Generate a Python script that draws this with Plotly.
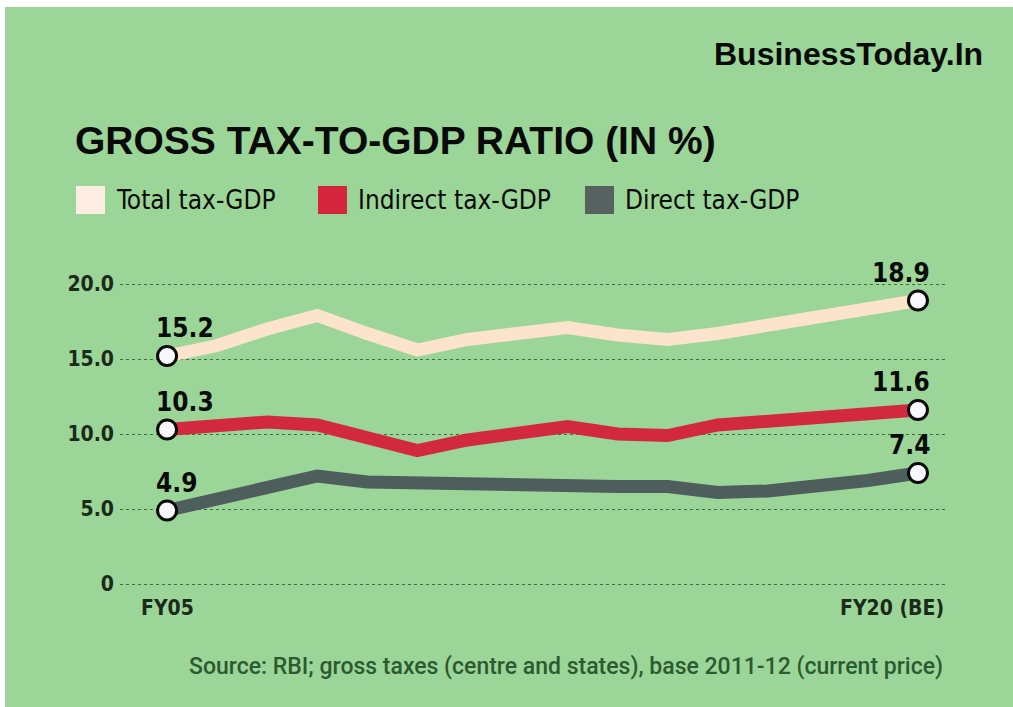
import plotly.graph_objects as go

# Fiscal years FY05 .. FY20 (BE)
years = ["FY05", "FY06", "FY07", "FY08", "FY09", "FY10", "FY11", "FY12",
         "FY13", "FY14", "FY15", "FY16", "FY17", "FY18", "FY19", "FY20"]
x_end_labels = ["FY05", "FY20 (BE)"]

total_tax_gdp = [15.2, 15.9, 17.0, 17.9, 16.7, 15.6, 16.3, 16.7,
                 17.1, 16.6, 16.3, 16.7, 17.2, 17.8, 18.4, 18.9]
indirect_tax_gdp = [10.3, 10.6, 10.8, 10.6, 9.8, 8.9, 9.6, 10.0,
                    10.5, 10.0, 9.9, 10.6, 10.9, 11.2, 11.5, 11.6]
direct_tax_gdp = [4.9, 5.6, 6.5, 7.2, 6.8, 6.7, 6.7, 6.5,
                  6.5, 6.5, 6.5, 6.1, 6.2, 6.5, 6.9, 7.4]

series_names = ["Total tax-GDP", "Indirect tax-GDP", "Direct tax-GDP"]
y_ticks = [0, 5, 10, 15, 20]
y_tick_text = ["0", "5.0", "10.0", "15.0", "20.0"]

title_text = "GROSS TAX-TO-GDP RATIO (IN %)"
brand_text = "BusinessToday.In"
source_text = "Source: RBI; gross taxes (centre and states), base 2011-12 (current price)"

# Styling
W, H = 1013, 707
ML, MR, MT, MB = 120, 68, 269, 120
GREEN = "#9BD698"
LINE_COLORS = ["#FCE3CC", "#D3293F", "#4E5E5C"]
SWATCH_COLORS = ["#FEEDE2", "#D5263E", "#56625F"]
NARROW = "Liberation Sans Narrow, DejaVu Sans Condensed, Roboto Condensed, Liberation Sans, sans-serif"
BOLD = "Liberation Sans, Arial, sans-serif"

pw, ph = W - ML - MR, H - MT - MB


def px_x(px):
    return (px - ML) / pw


def px_y(py):
    return (H - MB - py) / ph


all_series = [total_tax_gdp, indirect_tax_gdp, direct_tax_gdp]

fig = go.Figure()

for name, vals, col in zip(series_names, all_series, LINE_COLORS):
    fig.add_trace(go.Scatter(
        x=years, y=vals, mode="lines", name=name,
        line=dict(color=col, width=13), showlegend=False, hoverinfo="skip",
    ))

# endpoint markers
for vals in all_series:
    fig.add_trace(go.Scatter(
        x=[years[0], years[-1]], y=[vals[0], vals[-1]], mode="markers",
        marker=dict(size=19, color="#F7F7FC", line=dict(color="#0A0A0A", width=3)),
        showlegend=False, hoverinfo="skip",
    ))

annotations = []
# endpoint value labels
for vals in all_series:
    annotations.append(dict(
        x=years[0], y=vals[0], xref="x", yref="y", text=f"{vals[0]:.1f}",
        showarrow=False, xanchor="left", yanchor="bottom", xshift=-13, yshift=11,
        font=dict(family=NARROW, size=26, color="#0A0A0A", weight="bold"),
    ))
    annotations.append(dict(
        x=years[-1], y=vals[-1], xref="x", yref="y", text=f"{vals[-1]:.1f}",
        showarrow=False, xanchor="right", yanchor="bottom", xshift=14, yshift=11,
        font=dict(family=NARROW, size=26, color="#0A0A0A", weight="bold"),
    ))

# x end labels
annotations.append(dict(
    x=years[0], y=0, xref="x", yref="y", text=x_end_labels[0], showarrow=False,
    xanchor="center", yanchor="top", yshift=-10,
    font=dict(family=NARROW, size=21, color="#1B2A1B", weight="bold"),
))
annotations.append(dict(
    x=px_x(946), y=0, xref="paper", yref="y", text=x_end_labels[1], showarrow=False,
    xanchor="right", yanchor="top", yshift=-10,
    font=dict(family=NARROW, size=21, color="#1B2A1B", weight="bold"),
))

# brand, title, source
annotations.append(dict(
    x=px_x(985), y=px_y(54), xref="paper", yref="paper", text=brand_text,
    showarrow=False, xanchor="right", yanchor="middle",
    font=dict(family=BOLD, size=32, color="#0A0A0A", weight="bold"),
))
annotations.append(dict(
    x=px_x(73), y=px_y(140), xref="paper", yref="paper", text=title_text,
    showarrow=False, xanchor="left", yanchor="middle",
    font=dict(family=BOLD, size=39, color="#0A0A0A", weight="bold"),
))
annotations.append(dict(
    x=px_x(945), y=px_y(666), xref="paper", yref="paper", text=source_text,
    showarrow=False, xanchor="right", yanchor="middle",
    font=dict(family="Roboto, Liberation Sans, sans-serif", size=23,
              color="#2C5A31", weight=500),
))

# legend swatches and labels; white page edge at top and left
swatch_x = [76, 318, 585]
shapes = [
    dict(type="rect", xref="paper", yref="paper",
         x0=px_x(-5), x1=px_x(W + 5), y0=px_y(7), y1=px_y(-5),
         fillcolor="white", line=dict(width=0), layer="below"),
    dict(type="rect", xref="paper", yref="paper",
         x0=px_x(-5), x1=px_x(5), y0=px_y(H + 5), y1=px_y(-5),
         fillcolor="white", line=dict(width=0), layer="below"),
]
for sx, name, col in zip(swatch_x, series_names, SWATCH_COLORS):
    shapes.append(dict(type="rect", xref="paper", yref="paper",
                       x0=px_x(sx), x1=px_x(sx + 29), y0=px_y(214), y1=px_y(186),
                       fillcolor=col, line=dict(width=0)))
    annotations.append(dict(
        x=px_x(sx + 38), y=px_y(200), xref="paper", yref="paper", text=name,
        showarrow=False, xanchor="left", yanchor="middle",
        font=dict(family=NARROW, size=26, color="#0A0A0A"),
    ))

fig.update_layout(
    width=W, height=H,
    margin=dict(l=ML, r=MR, t=MT, b=MB),
    paper_bgcolor=GREEN,
    plot_bgcolor="rgba(0,0,0,0)",
    showlegend=False,
    shapes=shapes,
    annotations=annotations,
    xaxis=dict(
        type="category", categoryorder="array", categoryarray=years,
        range=[-0.94, 15.54], showgrid=False, zeroline=False,
        showticklabels=False, showline=False, fixedrange=True,
    ),
    yaxis=dict(
        range=[-0.2, 21], tickvals=y_ticks, ticktext=y_tick_text,
        showgrid=True, gridcolor="#3D6E3C", gridwidth=1.3, griddash="dot",
        zeroline=False, showline=False, ticks="", ticklabelstandoff=5,
        tickfont=dict(family=NARROW, size=21, color="#1B2A1B", weight="bold"),
        fixedrange=True,
    ),
)

fig.write_html("out.html")
